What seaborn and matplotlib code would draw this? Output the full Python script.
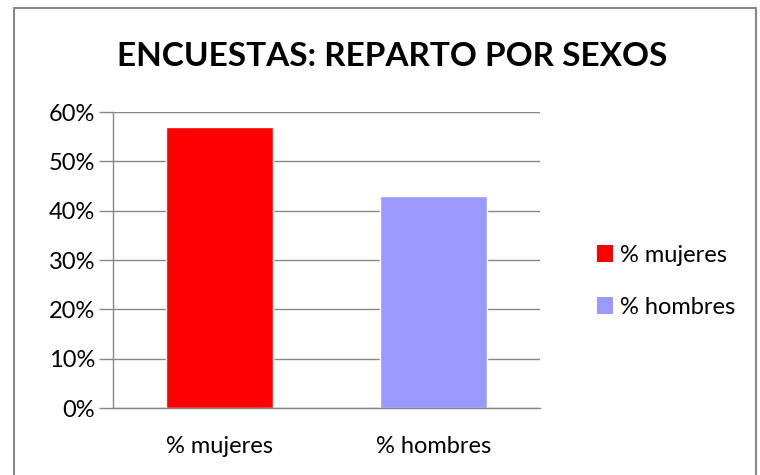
import matplotlib
matplotlib.use('Agg')
import matplotlib.pyplot as plt
import seaborn as sns
import pandas as pd
from matplotlib.lines import Line2D
from matplotlib.patches import Patch

# datos de la encuesta
categorias = ['% mujeres', '% hombres']
porcentajes = [57, 43]
colores = ['#FF0000', '#9999FF']
ticks_y = [0, 10, 20, 30, 40, 50, 60]

df = pd.DataFrame({'cat': categorias, 'pct': porcentajes})

sns.set_style('white')
plt.rcParams['font.family'] = ['Lato', 'DejaVu Sans']
plt.rcParams['text.color'] = 'black'
plt.rcParams['xtick.color'] = 'black'
plt.rcParams['ytick.color'] = 'black'

fig = plt.figure(figsize=(7.6, 4.75), dpi=100)
ax = fig.add_axes([0.1487, 0.141, 0.5618, 0.623])

sns.barplot(data=df, x='cat', y='pct', hue='cat', palette=colores,
            width=0.5, dodge=False, legend=False, ax=ax, saturation=1)

ax.set_ylim(0, 60)
ax.set_xlim(-0.5, 1.5)
ax.set_yticks(ticks_y)
ax.set_yticklabels([f'{t}%' for t in ticks_y], fontsize=17)
ax.set_xticks(range(len(categorias)))
ax.set_xticklabels(categorias, fontsize=17)
ax.set_xticks([-0.5, 0.5, 1.5], minor=True)
ax.tick_params(axis='x', which='major', length=0, pad=20)
ax.tick_params(axis='x', which='minor', length=8, width=1, color='#878787', direction='out')
ax.tick_params(axis='y', length=10, width=1, color='#878787', labelcolor='black',
               direction='out', left=True, pad=3)
ax.set_xlabel('')
ax.set_ylabel('')

ax.grid(axis='y', color='#878787', linewidth=1)
ax.set_axisbelow(True)
for s in ['top', 'right']:
    ax.spines[s].set_visible(False)
for s in ['left', 'bottom']:
    ax.spines[s].set_color('#878787')
    ax.spines[s].set_linewidth(1)

fig.text(0.516, 0.882, 'ENCUESTAS: REPARTO POR SEXOS', ha='center', va='center',
         fontsize=24, fontweight='bold', color='black')

handles = [Patch(facecolor=c, edgecolor='none') for c in colores]
fig.legend(handles, categorias, loc='center left', bbox_to_anchor=(0.757, 0.408),
           frameon=False, fontsize=17, handlelength=0.7, handleheight=0.7,
           handletextpad=0.3, labelspacing=1.3)

# marco del gráfico
fig.add_artist(Line2D([14/760, 14/760], [0, 1 - 8/475], color='#878787', lw=1.5))
fig.add_artist(Line2D([14/760, 756/760], [1 - 8/475, 1 - 8/475], color='#878787', lw=1.5))
fig.add_artist(Line2D([756/760, 756/760], [0, 1 - 8/475], color='#878787', lw=1.5))

fig.savefig('out.png', dpi=100)
